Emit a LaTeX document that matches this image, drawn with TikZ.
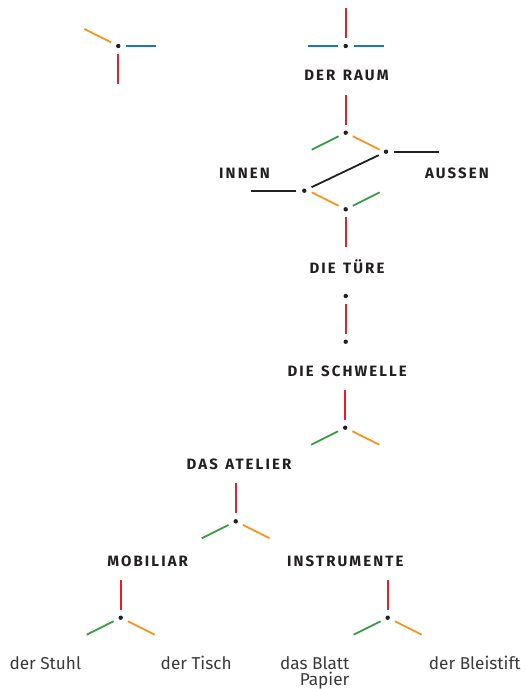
\documentclass[tikz,border=0pt]{standalone}
\usepackage{fontspec}
\setmainfont{Fira Sans}
\newfontfamily\capsfont[LetterSpace=14, WordSpace=1.3]{Fira Sans}
\usetikzlibrary{calc}

\definecolor{armred}{HTML}{E41E2B}
\definecolor{armblue}{HTML}{1C75BC}
\definecolor{armorange}{HTML}{F7941D}
\definecolor{armgreen}{HTML}{3A9A45}
\definecolor{ink}{HTML}{231F20}
\definecolor{leafink}{HTML}{3A3A3C}

\begin{document}
\begin{tikzpicture}[x=1pt, y=-1pt,
  arm/.style={line width=1.8pt, shorten <=8pt},
  link/.style={line width=1.8pt, shorten <=8pt, shorten >=8pt},
  dot/.style={circle, fill=ink, inner sep=0pt, minimum size=4.4pt},
  head/.style={font=\capsfont\bfseries\fontsize{15}{17}\selectfont, text=ink, anchor=base, inner sep=0pt},
  leaf/.style={font=\fontsize{17.2}{20}\selectfont, text=leafink, anchor=base, inner sep=0pt}]

  \useasboundingbox (0,0) rectangle (526,689);

  % junction points
  \node[dot] (P1) at (118.3,46) {};
  \node[dot] (P2) at (345.7,46) {};
  \node[dot] (A)  at (345.7,132.7) {};
  \node[dot] (B)  at (386,151.7) {};
  \node[dot] (C)  at (304.3,190.7) {};
  \node[dot] (D)  at (345.7,209.3) {};
  \node[dot] (E)  at (345.7,296) {};
  \node[dot] (F)  at (345.7,341.7) {};
  \node[dot] (G)  at (345.2,427.7) {};
  \node[dot] (H)  at (235.7,521.3) {};
  \node[dot] (I)  at (120.7,617.7) {};
  \node[dot] (J)  at (387.7,617.7) {};

  % labels (letter-spaced capitals, nudged right for the trailing spacing)
  \node[head] (raum)    at (346.5,80.5)   {DER RAUM};
  \node[head] (innen)   at (244.5,178)    {INNEN};
  \node[head] (aussen)  at (457,178)  {AUSSEN};
  \node[head] (tuere)   at (347,273.5) {DIE TÜRE};
  \node[head] (schwelle) at (347.2,376.5) {DIE SCHWELLE};
  \node[head] (atelier) at (239,469)  {DAS ATELIER};
  \node[head] (mobiliar) at (147.7,566) {MOBILIAR};
  \node[head] (instr)   at (345.3,566)  {INSTRUMENTE};

  \node[leaf] (stuhl)   at (45.3,669.5)  {der Stuhl};
  \node[leaf] (tisch)   at (196.2,669.5) {der Tisch};
  \node[leaf, anchor=base east] (blatt) at (349.5,669.5) {das Blatt};
  \node[leaf, anchor=base east] (papier) at (349.5,685.5) {Papier};
  \node[leaf] (stift)   at (474.7,669.5) {der Bleistift};

  % P1
  \draw[arm, armorange] (P1.center) -- ++(206.57:38);
  \draw[arm, armblue]   (P1.center) -- ++(0:38);
  \draw[arm, armred]    (P1.center) -- ++(90:38);
  % P2
  \draw[arm, armred]    (P2.center) -- ++(270:38);
  \draw[arm, armblue]   (P2.center) -- ++(180:38);
  \draw[arm, armblue]   (P2.center) -- ++(0:38);
  % A
  \draw[arm, armred]    (A.center) -- ++(270:38);
  \draw[arm, armgreen]  (A.center) -- ++(153.43:38);
  \draw[arm, armorange] (A.center) -- ++(26.57:38);
  % B and C
  \draw[arm, ink]       (B.center) -- ++(0:53);
  \draw[link, ink]      (B.center) -- (C.center);
  \draw[arm, ink]       (C.center) -- ++(180:53);
  % D
  \draw[arm, armorange] (D.center) -- ++(206.57:38);
  \draw[arm, armgreen]  (D.center) -- ++(-26.57:38);
  \draw[arm, armred]    (D.center) -- ++(90:38);
  % E and F
  \draw[link, armred]   (E.center) -- (F.center);
  % G, H, I, J
  \foreach \p in {G,H,I,J}{
    \draw[arm, armred]    (\p.center) -- ++(270:38);
    \draw[arm, armgreen]  (\p.center) -- ++(153.43:38);
    \draw[arm, armorange] (\p.center) -- ++(26.57:38);
  }
\end{tikzpicture}
\end{document}
